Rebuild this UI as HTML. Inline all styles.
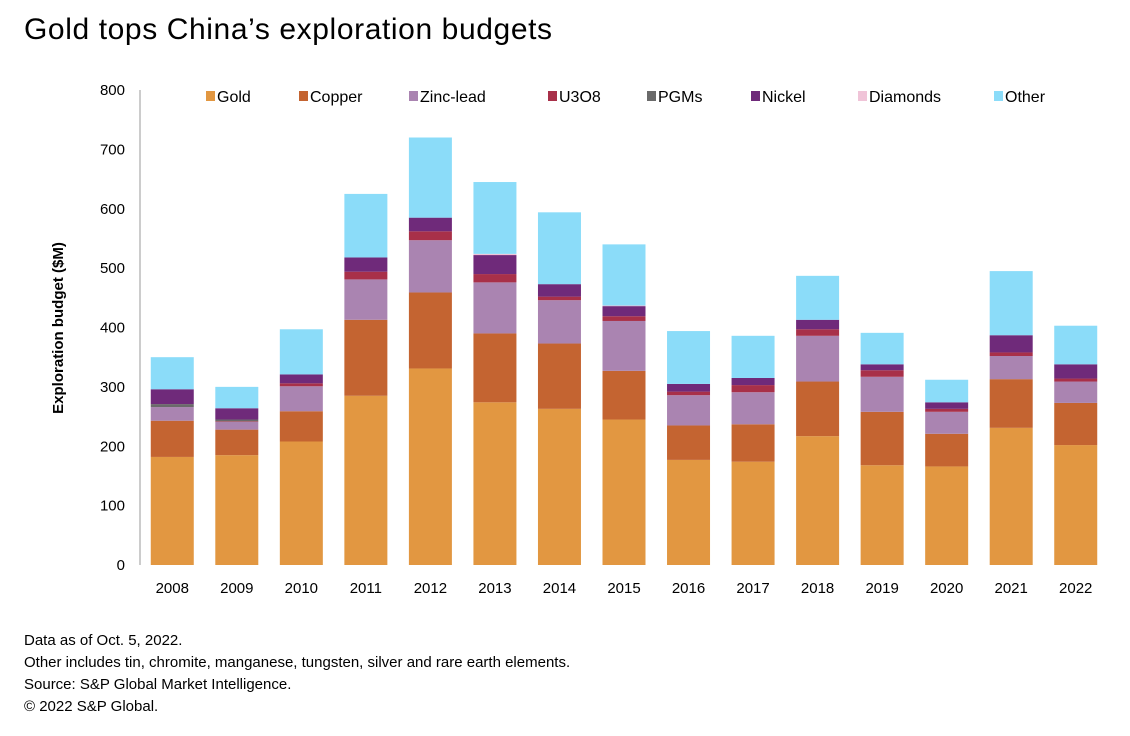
<!DOCTYPE html>
<html><head><meta charset="utf-8"><style>
body{margin:0;background:#fff;font-family:"Liberation Sans",sans-serif;}
#wrap{position:relative;width:1130px;height:736px;overflow:hidden;}
.t{position:absolute;color:#000;}
</style></head><body>
<div id="wrap">
<div class="t" style="left:24px;top:13px;font-size:30px;letter-spacing:0.6px;">Gold tops China’s exploration budgets</div>
<svg id="chart" width="1130" height="620" style="position:absolute;left:0;top:0"></svg>
<div class="t" style="left:24px;top:630px;font-size:15px;line-height:22px;">Data as of Oct. 5, 2022.<br>Other includes tin, chromite, manganese, tungsten, silver and rare earth elements.<br>Source: S&amp;P Global Market Intelligence.<br>© 2022 S&amp;P Global.</div>
</div>
<script>
const years=["2008","2009","2010","2011","2012","2013","2014","2015","2016","2017","2018","2019","2020","2021","2022"];
const seriesNames=["Gold","Copper","Zinc-lead","U3O8","PGMs","Nickel","Diamonds","Other"];
const seriesColors=["#e29741","#c46431","#aa84b1","#a83049","#6a6a6a","#6f2a7a","#f0c4d8","#8bdcf9"];
const gold=[182,185,208,285,331,274,263,245,177,174,217,168,166,231,202];
const copper=[61,43,51,128,128,116,110,82,58,63,92,90,55,82,71];
const zinc=[23,13,42,68,88,86,73,84,51,54,77,59,37,39,36];
const u3o8=[0,1,5,13,15,14,6,8,6,12,11,11,5,6,5];
const pgms=[5,3,0,0,0,0,0,0,0,0,0,0,0,0,0];
const nickel=[25,19,15,24,23,32,21,17,13,12,16,10,11,29,24];
const diamonds=[0,0,0,0,0,2,0,1,0,0,0,0,0,0,0];
const other=[54,36,76,107,135,121,121,103,89,71,74,53,38,108,65];
const yTicks=[0,100,200,300,400,500,600,700,800];
const series=[gold,copper,zinc,u3o8,pgms,nickel,diamonds,other];
const NS="http://www.w3.org/2000/svg";
const svg=document.getElementById('chart');
const x0=140,x1=1108,yBase=565,yTop=90,yMax=800;
const band=(x1-x0)/years.length,bw=43;
function yS(v){return yBase-(v/yMax)*(yBase-yTop);}
function xC(i){return x0+band*(i+0.5);}
function mk(tag,attrs){const e=document.createElementNS(NS,tag);for(const k in attrs)e.setAttribute(k,attrs[k]);svg.appendChild(e);return e;}
const ax=mk('line',{x1:x0,x2:x0,y1:yTop,y2:yBase,stroke:'#bbb','stroke-width':1.5});


yTicks.forEach(v=>{const t=mk('text',{x:125,y:yS(v)+5,'text-anchor':'end','font-size':15,fill:'#000','font-family':'Liberation Sans'});t.textContent=v;

});
const yt=mk('text',{x:0,y:0,transform:'translate(63,328) rotate(-90)','text-anchor':'middle','font-size':15,'font-weight':'bold',fill:'#000','font-family':'Liberation Sans'});
yt.textContent='Exploration budget ($M)';


years.forEach((yr,i)=>{let cum=0;
series.forEach((s,k)=>{const v=s[i];if(v<=0)return;const r=mk('rect',{x:xC(i)-bw/2,y:yS(cum+v),width:bw,height:yS(cum)-yS(cum+v),fill:seriesColors[k]});


cum+=v;});
const t=mk('text',{x:xC(i),y:593,'text-anchor':'middle','font-size':15,fill:'#000','font-family':'Liberation Sans'});t.textContent=yr;

});
const legX=[206,299,409,548,647,751,858,994];
seriesNames.forEach((n,k)=>{const g=document.createElementNS(NS,'g');svg.appendChild(g);


const r=document.createElementNS(NS,'rect');r.setAttribute('x',legX[k]);r.setAttribute('y',91);r.setAttribute('width',9);r.setAttribute('height',10);r.setAttribute('fill',seriesColors[k]);g.appendChild(r);
const t=document.createElementNS(NS,'text');t.setAttribute('x',legX[k]+11);t.setAttribute('y',102);t.setAttribute('font-size',16);t.setAttribute('font-family','Liberation Sans');t.textContent=n;g.appendChild(t);});
</script>
</body></html>
